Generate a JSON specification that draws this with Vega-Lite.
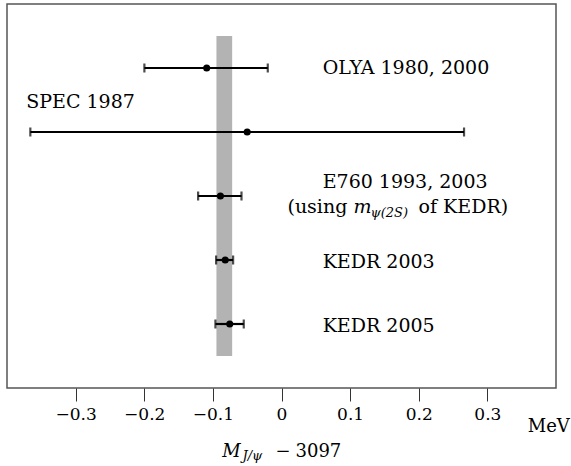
{
  "$schema": "https://vega.github.io/schema/vega-lite/v6.json",
  "width": 549,
  "height": 384,
  "autosize": {"type": "none"},
  "padding": {"left": 7, "top": 4, "right": 15, "bottom": 78},
  "background": "white",
  "config": {
    "view": {"stroke": "#555", "strokeWidth": 1.5},
    "font": "DejaVu Serif",
    "text": {"font": "DejaVu Serif"},
    "axis": {"labelFont": "DejaVu Serif", "titleFont": "DejaVu Serif"}
  },
  "datasets": {
    "meas": [
      {"name": "OLYA 1980, 2000", "row": 5, "value": -0.109, "lo": -0.1998, "hi": -0.020},
      {"name": "SPEC 1987", "row": 4, "value": -0.050, "lo": -0.366, "hi": 0.266},
      {"name": "E760 1993, 2003", "row": 3, "value": -0.089, "lo": -0.1215, "hi": -0.0583},
      {"name": "KEDR 2003", "row": 2, "value": -0.082, "lo": -0.0953, "hi": -0.0705},
      {"name": "KEDR 2005", "row": 1, "value": -0.0754, "lo": -0.0963, "hi": -0.055}
    ],
    "band": [{"lo": -0.0948, "hi": -0.0719, "bottom": 0.5, "top": 5.5}],
    "texts": [
      {"style": "n22", "text": "OLYA 1980, 2000", "x": 0.06, "y": 4.902},
      {"style": "n22", "text": "SPEC 1987", "x": -0.372, "y": 4.37},
      {"style": "n22", "text": "E760 1993, 2003", "x": 0.06, "y": 3.125},
      {"style": "n22", "text": "(using", "x": 0.0087, "y": 2.734},
      {"style": "n22", "text": "of KEDR)", "x": 0.1998, "y": 2.734},
      {"style": "n22", "text": "KEDR 2003", "x": 0.06, "y": 1.88},
      {"style": "n22", "text": "KEDR 2005", "x": 0.06, "y": 0.87},
      {"style": "i22", "text": "m", "x": 0.105, "y": 2.734},
      {"style": "i15", "text": "ψ(2S)", "x": 0.1298, "y": 2.677},
      {"style": "n20", "text": "MeV", "x": 0.3588, "y": -0.683},
      {"style": "i21", "text": "M", "x": -0.0865, "y": -1.073},
      {"style": "i15", "text": "J/ψ", "x": -0.0569, "y": -1.125},
      {"style": "n21", "text": "−", "x": -0.00875, "y": -1.073},
      {"style": "n21", "text": "3097", "x": 0.0204, "y": -1.073}
    ]
  },
  "layer": [
    {
      "data": {"name": "band"},
      "mark": {"type": "rect", "color": "#b3b3b3"},
      "encoding": {
        "x": {"field": "lo", "type": "quantitative", "scale": {"domain": [-0.4, 0.4], "nice": false, "zero": false},
          "axis": {"title": null, "values": [-0.3, -0.2, -0.1, 0, 0.1, 0.2, 0.3], "format": ".1~f", "domain": false, "grid": false, "tickSize": 13, "tickColor": "#333", "tickWidth": 1, "labelFont": "DejaVu Serif", "labelFontSize": 17, "labelColor": "black", "labelPadding": 5}},
        "x2": {"field": "hi"},
        "y": {"field": "bottom", "type": "quantitative", "scale": {"domain": [0, 6], "nice": false, "zero": false}, "axis": null},
        "y2": {"field": "top"}
      }
    },
    {
      "data": {"name": "meas"},
      "mark": {"type": "rule", "color": "black", "strokeWidth": 2.2},
      "encoding": {
        "x": {"field": "lo", "type": "quantitative",
          "axis": {"title": null, "values": [-0.3, -0.2, -0.1, 0, 0.1, 0.2, 0.3], "format": ".1~f", "domain": false, "grid": false, "tickSize": 13, "tickColor": "#333", "tickWidth": 1, "labelFont": "DejaVu Serif", "labelFontSize": 17, "labelColor": "black", "labelPadding": 5}},
        "x2": {"field": "hi"},
        "y": {"field": "row", "type": "quantitative", "axis": null}
      }
    },
    {
      "data": {"name": "meas"},
      "mark": {"type": "tick", "orient": "vertical", "color": "black", "thickness": 2.2, "size": 9},
      "encoding": {
        "x": {"field": "lo", "type": "quantitative",
          "axis": {"title": null, "values": [-0.3, -0.2, -0.1, 0, 0.1, 0.2, 0.3], "format": ".1~f", "domain": false, "grid": false, "tickSize": 13, "tickColor": "#333", "tickWidth": 1, "labelFont": "DejaVu Serif", "labelFontSize": 17, "labelColor": "black", "labelPadding": 5}},
        "y": {"field": "row", "type": "quantitative", "axis": null}
      }
    },
    {
      "data": {"name": "meas"},
      "mark": {"type": "tick", "orient": "vertical", "color": "black", "thickness": 2.2, "size": 9},
      "encoding": {
        "x": {"field": "hi", "type": "quantitative",
          "axis": {"title": null, "values": [-0.3, -0.2, -0.1, 0, 0.1, 0.2, 0.3], "format": ".1~f", "domain": false, "grid": false, "tickSize": 13, "tickColor": "#333", "tickWidth": 1, "labelFont": "DejaVu Serif", "labelFontSize": 17, "labelColor": "black", "labelPadding": 5}},
        "y": {"field": "row", "type": "quantitative", "axis": null}
      }
    },
    {
      "data": {"name": "meas"},
      "mark": {"type": "point", "filled": true, "color": "black", "opacity": 1, "size": 50},
      "encoding": {
        "x": {"field": "value", "type": "quantitative",
          "axis": {"title": null, "values": [-0.3, -0.2, -0.1, 0, 0.1, 0.2, 0.3], "format": ".1~f", "domain": false, "grid": false, "tickSize": 13, "tickColor": "#333", "tickWidth": 1, "labelFont": "DejaVu Serif", "labelFontSize": 17, "labelColor": "black", "labelPadding": 5}},
        "y": {"field": "row", "type": "quantitative", "axis": null}
      }
    },
    {
      "data": {"name": "texts"},
      "transform": [{"filter": "datum.style === 'n22'"}],
      "mark": {"type": "text", "font": "DejaVu Serif", "align": "left", "baseline": "alphabetic", "fontSize": 19, "color": "black"},
      "encoding": {
        "x": {"field": "x", "type": "quantitative",
          "axis": {"title": null, "values": [-0.3, -0.2, -0.1, 0, 0.1, 0.2, 0.3], "format": ".1~f", "domain": false, "grid": false, "tickSize": 13, "tickColor": "#333", "tickWidth": 1, "labelFont": "DejaVu Serif", "labelFontSize": 17, "labelColor": "black", "labelPadding": 5}},
        "y": {"field": "y", "type": "quantitative", "axis": null},
        "text": {"field": "text"}
      }
    },
    {
      "data": {"name": "texts"},
      "transform": [{"filter": "datum.style === 'i22'"}],
      "mark": {"type": "text", "font": "DejaVu Serif", "align": "left", "baseline": "alphabetic", "fontSize": 19, "fontStyle": "italic", "color": "black"},
      "encoding": {
        "x": {"field": "x", "type": "quantitative",
          "axis": {"title": null, "values": [-0.3, -0.2, -0.1, 0, 0.1, 0.2, 0.3], "format": ".1~f", "domain": false, "grid": false, "tickSize": 13, "tickColor": "#333", "tickWidth": 1, "labelFont": "DejaVu Serif", "labelFontSize": 17, "labelColor": "black", "labelPadding": 5}},
        "y": {"field": "y", "type": "quantitative", "axis": null},
        "text": {"field": "text"}
      }
    },
    {
      "data": {"name": "texts"},
      "transform": [{"filter": "datum.style === 'i15'"}],
      "mark": {"type": "text", "font": "DejaVu Serif", "align": "left", "baseline": "alphabetic", "fontSize": 13, "fontStyle": "italic", "color": "black"},
      "encoding": {
        "x": {"field": "x", "type": "quantitative",
          "axis": {"title": null, "values": [-0.3, -0.2, -0.1, 0, 0.1, 0.2, 0.3], "format": ".1~f", "domain": false, "grid": false, "tickSize": 13, "tickColor": "#333", "tickWidth": 1, "labelFont": "DejaVu Serif", "labelFontSize": 17, "labelColor": "black", "labelPadding": 5}},
        "y": {"field": "y", "type": "quantitative", "axis": null},
        "text": {"field": "text"}
      }
    },
    {
      "data": {"name": "texts"},
      "transform": [{"filter": "datum.style === 'n20'"}],
      "mark": {"type": "text", "font": "DejaVu Serif", "align": "left", "baseline": "alphabetic", "fontSize": 18, "color": "black"},
      "encoding": {
        "x": {"field": "x", "type": "quantitative",
          "axis": {"title": null, "values": [-0.3, -0.2, -0.1, 0, 0.1, 0.2, 0.3], "format": ".1~f", "domain": false, "grid": false, "tickSize": 13, "tickColor": "#333", "tickWidth": 1, "labelFont": "DejaVu Serif", "labelFontSize": 17, "labelColor": "black", "labelPadding": 5}},
        "y": {"field": "y", "type": "quantitative", "axis": null},
        "text": {"field": "text"}
      }
    },
    {
      "data": {"name": "texts"},
      "transform": [{"filter": "datum.style === 'i21'"}],
      "mark": {"type": "text", "font": "DejaVu Serif", "align": "left", "baseline": "alphabetic", "fontSize": 18, "fontStyle": "italic", "color": "black"},
      "encoding": {
        "x": {"field": "x", "type": "quantitative",
          "axis": {"title": null, "values": [-0.3, -0.2, -0.1, 0, 0.1, 0.2, 0.3], "format": ".1~f", "domain": false, "grid": false, "tickSize": 13, "tickColor": "#333", "tickWidth": 1, "labelFont": "DejaVu Serif", "labelFontSize": 17, "labelColor": "black", "labelPadding": 5}},
        "y": {"field": "y", "type": "quantitative", "axis": null},
        "text": {"field": "text"}
      }
    },
    {
      "data": {"name": "texts"},
      "transform": [{"filter": "datum.style === 'n21'"}],
      "mark": {"type": "text", "font": "DejaVu Serif", "align": "left", "baseline": "alphabetic", "fontSize": 18, "color": "black"},
      "encoding": {
        "x": {"field": "x", "type": "quantitative",
          "axis": {"title": null, "values": [-0.3, -0.2, -0.1, 0, 0.1, 0.2, 0.3], "format": ".1~f", "domain": false, "grid": false, "tickSize": 13, "tickColor": "#333", "tickWidth": 1, "labelFont": "DejaVu Serif", "labelFontSize": 17, "labelColor": "black", "labelPadding": 5}},
        "y": {"field": "y", "type": "quantitative", "axis": null},
        "text": {"field": "text"}
      }
    }
  ]
}
